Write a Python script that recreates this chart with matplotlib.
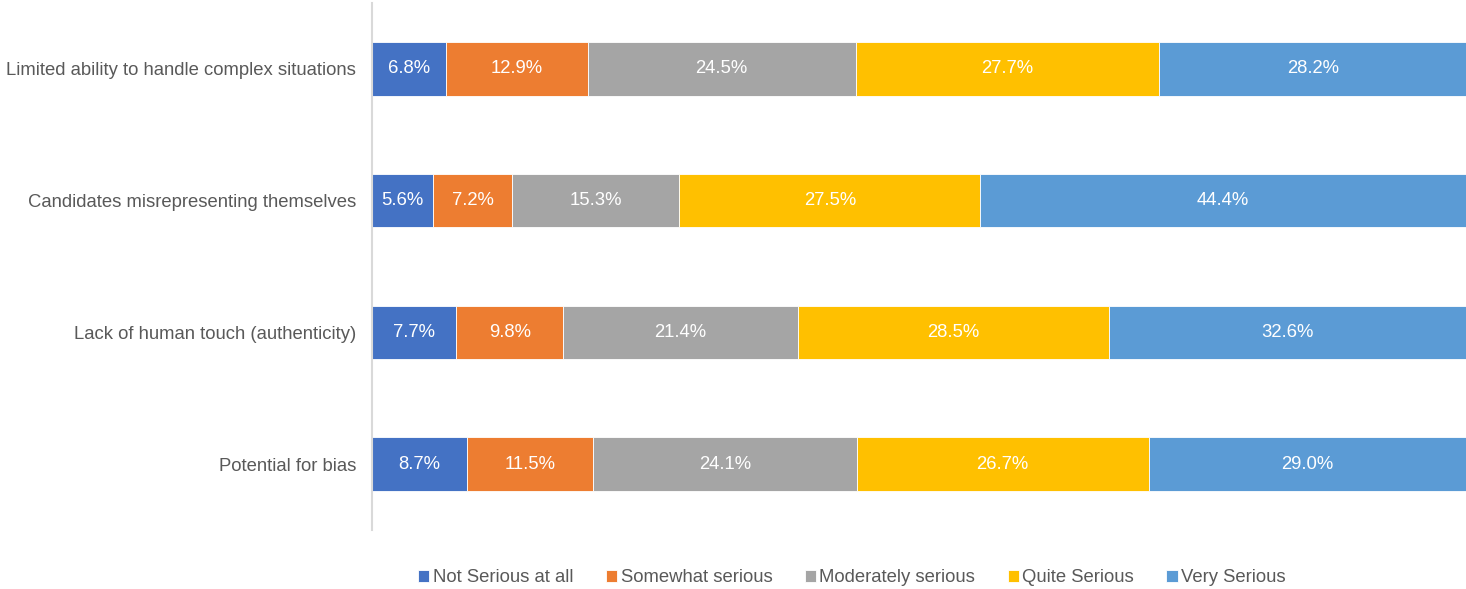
import matplotlib.pyplot as plt
import numpy as np

plt.rcParams['font.family'] = ['Liberation Sans', 'DejaVu Sans']

categories = ['Potential for bias',
              'Lack of human touch (authenticity)',
              'Candidates misrepresenting themselves',
              'Limited ability to handle complex situations']
series_names = ['Not Serious at all', 'Somewhat serious', 'Moderately serious',
                'Quite Serious', 'Very Serious']
not_serious = [8.7, 7.7, 5.6, 6.8]
somewhat = [11.5, 9.8, 7.2, 12.9]
moderately = [24.1, 21.4, 15.3, 24.5]
quite = [26.7, 28.5, 27.5, 27.7]
very = [29.0, 32.6, 44.4, 28.2]

colors = ['#4472C4', '#ED7D31', '#A5A5A5', '#FFC000', '#5B9BD5']
series = [not_serious, somewhat, moderately, quite, very]

fig = plt.figure(figsize=(14.66, 5.89), dpi=100)
ax = fig.add_axes([372/1466, 59/589, 1094/1466, 527/589])

y = np.arange(len(categories))
left = np.zeros(len(categories))
for name, vals, col in zip(series_names, series, colors):
    vals = np.array(vals)
    bars = ax.barh(y, vals, left=left, height=0.405, color=col, label=name,
                   edgecolor='white', linewidth=0.6)
    for b, v in zip(bars, vals):
        ax.text(b.get_x() + b.get_width() / 2, b.get_y() + b.get_height() / 2,
                '{0:.1f}%'.format(v), ha='center', va='center',
                color='white', fontsize=13.3)
    left += vals

ax.set_xlim(0, 100)
ax.set_ylim(-0.5, 3.5)
ax.set_yticks(y)
ax.set_yticklabels(categories, fontsize=13.3, color='#595959')
ax.set_xticks([])
for s in ['top', 'right', 'bottom']:
    ax.spines[s].set_visible(False)
ax.spines['left'].set_color('#D9D9D9')
ax.spines['left'].set_linewidth(1.5)
ax.tick_params(axis='y', length=0, pad=11.5)

fig.legend(loc='center', bbox_to_anchor=(852/1466, 1 - 578/589), ncol=5,
           frameon=False, fontsize=13.3, labelcolor='#595959',
           handlelength=0.6, handleheight=0.6, handletextpad=0.2,
           columnspacing=1.75)

fig.savefig('out.png', dpi=100)
